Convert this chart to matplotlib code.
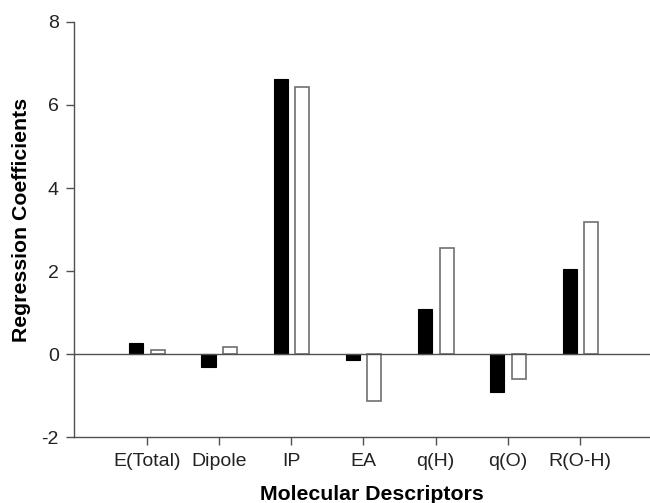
import numpy as np
import matplotlib
matplotlib.use('Agg')
import matplotlib.pyplot as plt

plt.rcParams['font.family'] = ['Liberation Sans', 'DejaVu Sans']

descriptors = ['E(Total)', 'Dipole', 'IP', 'EA', 'q(H)', 'q(O)', 'R(O-H)']
coef_black = [0.27, -0.30, 6.62, -0.13, 1.10, -0.91, 2.06]
coef_white = [0.11, 0.18, 6.44, -1.12, 2.55, -0.59, 3.18]

fig = plt.figure(figsize=(6.5, 5.03), dpi=100)
ax = fig.add_axes([0.1138, 0.1306, 0.8862, 0.826])

x = np.arange(len(descriptors))
w = 0.194
ax.bar(x - 0.144, coef_black, w, color='black', edgecolor='black', linewidth=0.8)
ax.bar(x + 0.152, coef_white, w, color='white', edgecolor='#707070', linewidth=1.2)
ax.axhline(0, color='#505050', linewidth=1.0)

ax.set_xlim(-1.007, 6.97)
ax.set_ylim(-2, 8)
ax.set_yticks([-2, 0, 2, 4, 6, 8])
ax.set_yticklabels(['-2', '0', '2', '4', '6', '8'])
ax.set_xticks(x)
ax.set_xticklabels(descriptors)

for s in ['top', 'right']:
    ax.spines[s].set_visible(False)
for s in ['left', 'bottom']:
    ax.spines[s].set_color('#505050')
    ax.spines[s].set_linewidth(1.0)
ax.tick_params(axis='both', colors='#505050', labelcolor='#222222', length=6, width=1.0,
               labelsize=14)
ax.tick_params(axis='x', pad=5)
ax.tick_params(axis='y', pad=5)

ax.set_ylabel('Regression Coefficients', fontsize=15.3, fontweight='bold')
ax.set_xlabel('Molecular Descriptors', fontsize=15.3, fontweight='bold')
ax.yaxis.set_label_coords(-0.074, 0.523)
ax.xaxis.set_label_coords(0.517, -0.115)

fig.savefig('out.png', dpi=100)
